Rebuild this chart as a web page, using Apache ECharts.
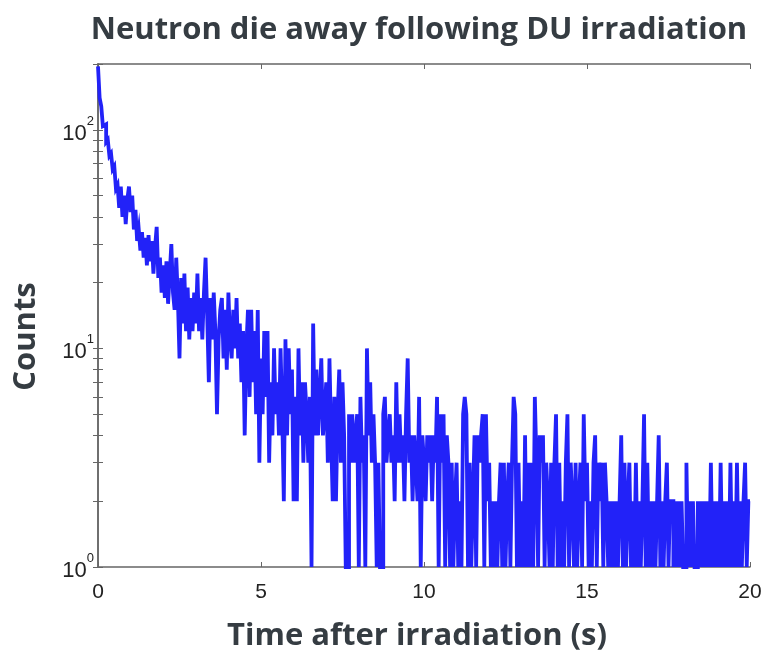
<!DOCTYPE html>
<html>
<head>
<meta charset="utf-8">
<title>Neutron die away</title>
<script src="https://cdn.jsdelivr.net/npm/echarts@6/dist/echarts.min.js"></script>
<style>
    html, body { margin: 0; padding: 0; background: #fff; }
    #chart { width: 766px; height: 657px; }
</style>
</head>
<body>
<div id="chart"></div>
<script>
// counts per 0.05 s bin, one line per second
var BIN = 0.05;
var counts = [
    195, 140, 128, 104, 106, 88, 90, 76, 78, 66, 68, 54, 56, 44, 55, 40, 50, 37, 48, 55,
    42, 50, 35, 43, 31, 35, 28, 34, 26, 32, 24, 33, 25, 31, 22, 29, 36, 21, 26, 18,
    24, 17, 25, 16, 22, 30, 18, 15, 26, 17, 9, 21, 13, 22, 12, 19, 11, 17, 12, 18,
    13, 22, 12, 17, 11, 18, 26, 14, 7, 17, 11, 18, 12, 5, 11, 15, 17, 9, 15, 8,
    18, 11, 9, 15, 10, 17, 9, 13, 7, 12, 4, 10, 15, 6, 15, 7, 12, 5, 15, 3,
    9, 5, 12, 6, 12, 3, 7, 4, 10, 5, 7, 4, 10, 5, 2, 11, 4, 10, 5, 8,
    2, 6, 2, 10, 4, 7, 3, 7, 5, 3, 6, 1, 13, 4, 8, 4, 6, 9, 4, 5,
    7, 3, 9, 4, 2, 6, 2, 5, 8, 3, 7, 4, 1, 1, 5, 3, 5, 3, 4, 5,
    1, 6, 3, 4, 1, 10, 4, 7, 3, 5, 3, 1, 3, 1, 1, 5, 6, 3, 4, 5,
    3, 4, 2, 7, 3, 5, 3, 4, 2, 5, 9, 3, 4, 2, 4, 3, 2, 6, 1, 4,
    3, 2, 4, 3, 4, 2, 4, 3, 6, 1, 5, 3, 5, 1, 4, 3, 1, 3, 1, 2,
    3, 1, 2, 1, 5, 6, 5, 1, 3, 1, 2, 4, 1, 4, 3, 4, 5, 1, 5, 2,
    3, 1, 2, 1, 2, 1, 2, 3, 1, 3, 1, 2, 3, 1, 3, 6, 5, 1, 3, 1,
    2, 1, 4, 1, 3, 1, 3, 1, 6, 3, 1, 4, 3, 4, 1, 3, 2, 1, 3, 1,
    3, 5, 1, 3, 1, 2, 1, 3, 5, 1, 3, 2, 1, 3, 1, 2, 3, 1, 5, 2,
    3, 1, 2, 1, 3, 4, 1, 3, 2, 3, 1, 3, 2, 1, 2, 1, 2, 1, 2, 1,
    2, 4, 1, 3, 1, 2, 3, 1, 2, 1, 3, 1, 2, 1, 2, 5, 1, 3, 1, 2,
    1, 2, 1, 2, 4, 1, 2, 1, 2, 3, 1, 2, 2, 1, 2, 1, 2, 1, 2, 1,
    1, 3, 1, 2, 1, 2, 1, 1, 2, 1, 2, 1, 2, 1, 2, 1, 3, 1, 2, 1,
    2, 1, 3, 1, 2, 1, 2, 1, 3, 1, 2, 1, 3, 1, 2, 1, 2, 3, 1, 2
];
var xTicks = [0, 5, 10, 15, 20];
var yLabelValues = [1, 10, 100];
var yTickValues = [1, 2, 3, 4, 5, 6, 7, 8, 9, 10, 20, 30, 40, 50, 60, 70, 80, 90, 100, 200];

// histogram outline: each bin is held flat from its start to the next bin
var points = [];
counts.forEach(function (v, i) {
    points.push([+(i * BIN).toFixed(2), v]);
    points.push([+((i + 1) * BIN).toFixed(2), v]);
});

var chart = echarts.init(document.getElementById('chart'));

var axisColor = '#666';
var textFont = "'Open Sans', 'Liberation Sans', sans-serif";
var labelFont = "'Liberation Sans', Arial, sans-serif";

function boxY(pos, showLabel) {
    return {
        type: 'log',
        logBase: 10,
        position: pos,
        min: 1,
        max: 200,
        name: pos == 'left' ? 'Counts' : '',
        nameLocation: 'middle',
        nameGap: 56,
        nameTextStyle: {
            fontFamily: textFont, fontWeight: 'bold', fontSize: 31, color: '#353c42',
            padding: [0, 42, 0, 0]
        },
        axisLine: { show: true, lineStyle: { color: axisColor, width: 1.5 } },
        axisTick: { show: true, inside: true, length: 5, customValues: yTickValues, lineStyle: { color: axisColor } },
        axisLabel: {
            show: showLabel,
            customValues: yLabelValues,
            margin: 4,
            fontFamily: labelFont,
            color: '#222',
            formatter: function (v) {
                return '{b|10}{s|' + Math.round(Math.log10(v)) + '}';
            },
            rich: {
                b: { fontSize: 22, fontFamily: labelFont, color: '#222', verticalAlign: 'bottom', lineHeight: 30 },
                s: { fontSize: 13, fontFamily: labelFont, color: '#222', verticalAlign: 'top', lineHeight: 30 }
            }
        },
        splitLine: { show: false }
    };
}

function boxX(pos, showLabel) {
    return {
        type: 'value',
        position: pos,
        min: 0,
        max: 20,
        interval: 5,
        name: pos == 'bottom' ? 'Time after irradiation (s)' : '',
        nameLocation: 'middle',
        nameGap: 54,
        nameTextStyle: {
            fontFamily: textFont, fontWeight: 'bold', fontSize: 31, color: '#353c42',
            padding: [0, 14, 0, 0]
        },
        axisLine: { show: true, onZero: false, lineStyle: { color: axisColor, width: 1.5 } },
        axisTick: { show: true, inside: true, length: 5, lineStyle: { color: axisColor } },
        axisLabel: { show: showLabel, margin: 15, fontFamily: labelFont, fontSize: 21, color: '#222' },
        splitLine: { show: false }
    };
}

var option = {
    animation: false,
    backgroundColor: '#fff',
    title: {
        text: 'Neutron die away following DU irradiation',
        left: 414,
        top: 10,
        textAlign: 'center',
        textStyle: { fontFamily: textFont, fontWeight: 'bold', fontSize: 31, color: '#353c42' }
    },
    grid: { left: 98, right: 16, top: 64, bottom: 89 },
    xAxis: [boxX('bottom', true), boxX('top', false)],
    yAxis: [boxY('left', true), boxY('right', false)],
    series: [{
        type: 'line',
        data: points,
        symbol: 'none',
        sampling: 'none',
        lineStyle: { color: '#2222f8', width: 3.8, join: 'miter' },
        clip: true
    }]
};
chart.setOption(option);
</script>
</body>
</html>
